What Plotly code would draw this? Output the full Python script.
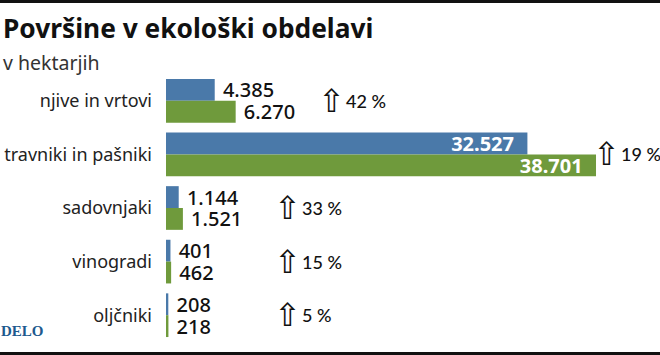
import plotly.graph_objects as go

# ---- data ----
categories = ["njive in vrtovi", "travniki in pašniki", "sadovnjaki", "vinogradi", "oljčniki"]
values_prev = [4385, 32527, 1144, 401, 208]
values_last = [6270, 38701, 1521, 462, 218]
growth_pct = [42, 19, 33, 15, 5]

title = "Površine v ekološki obdelavi"
subtitle = "v hektarjih"
source = "DELO"

# ---- layout constants (pixels) ----
W, H = 660, 355
ML, MR, MT, MB = 166, 14, 74, 13
PW, PH = W - ML - MR, H - MT - MB
arrow_x_px = [316, 591, 272, 272, 272]

BLUE = "#4a79a9"
GREEN = "#6f9a3c"
FONT = "Noto Sans"
NARROW = "Lato"


def px_x(p):
    return (p - ML) / PW


def px_y(p):
    return (H - MB - p) / PH


def fmt(v):
    return f"{v:,}".replace(",", ".")


def is_big(v):
    return v > 20000


fig = go.Figure()
for vals, col in [(values_prev, BLUE), (values_last, GREEN)]:
    fig.add_trace(go.Bar(
        y=categories, x=vals, orientation="h",
        marker=dict(color=col, line=dict(width=0)),
        text=[(f"<b>{fmt(v)}</b>  " if is_big(v) else " " + fmt(v)) for v in vals],
        textposition=["inside" if is_big(v) else "outside" for v in vals],
        insidetextanchor="end",
        constraintext="none",
        cliponaxis=False,
        outsidetextfont=dict(family=FONT, size=20, color="#111", weight=500),
        insidetextfont=dict(family=FONT, size=20, color="white"),
        hoverinfo="skip",
        showlegend=False,
    ))

annotations = []
for cat, pct, ax in zip(categories, growth_pct, arrow_x_px):
    annotations.append(dict(
        xref="paper", yref="y", x=px_x(ax), y=cat, xanchor="left", yanchor="middle",
        text="⇧", showarrow=False,
        font=dict(family="DejaVu Sans", size=32, color="#111"), yshift=0,
    ))
    annotations.append(dict(
        xref="paper", yref="y", x=px_x(ax + 28), y=cat, xanchor="left", yanchor="middle",
        text=f"{pct} %", showarrow=False,
        font=dict(family=NARROW, size=18, color="#111", weight=500),
    ))

annotations += [
    dict(xref="paper", yref="paper", x=px_x(1), y=px_y(28), xanchor="left", yanchor="middle",
         text=f"<b>{title}</b>", showarrow=False,
         font=dict(family=FONT, size=26.3, color="#111")),
    dict(xref="paper", yref="paper", x=px_x(1), y=px_y(63), xanchor="left", yanchor="middle",
         text=subtitle, showarrow=False,
         font=dict(family=FONT, size=19.5, color="#333")),
    dict(xref="paper", yref="paper", x=px_x(-1), y=px_y(331), xanchor="left", yanchor="middle",
         text=f"<b>{source}</b>", showarrow=False,
         font=dict(family="Liberation Serif", size=15, color="#1d5a8e")),
]

shapes = [
    dict(type="rect", xref="paper", yref="paper", x0=px_x(0), x1=px_x(W), y0=px_y(3), y1=px_y(0),
         fillcolor="#111", line=dict(width=0), layer="above"),
    dict(type="rect", xref="paper", yref="paper", x0=px_x(0), x1=px_x(W), y0=px_y(H), y1=px_y(352),
         fillcolor="#111", line=dict(width=0), layer="above"),
]

fig.update_layout(
    width=W, height=H,
    margin=dict(l=ML, r=MR, t=MT, b=MB, pad=0, autoexpand=False),
    paper_bgcolor="white", plot_bgcolor="white",
    barmode="group", bargap=0.185, bargroupgap=0,
    annotations=annotations, shapes=shapes,
    xaxis=dict(range=[0, 43200], showgrid=False, zeroline=False, showticklabels=False,
               showline=False, fixedrange=True, automargin=False),
    yaxis=dict(autorange="reversed", showgrid=False, zeroline=False, showline=False,
               ticks="", ticklabelstandoff=13, automargin=False,
               tickfont=dict(family=FONT, size=18, color="#222"), fixedrange=True),
    font=dict(family=FONT),
)

fig.write_html("out.html", config={"displayModeBar": False})
